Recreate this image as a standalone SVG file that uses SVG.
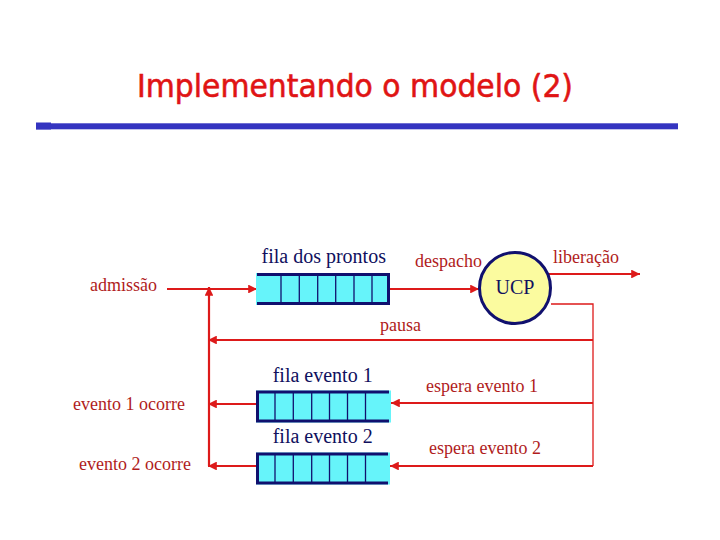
<svg xmlns="http://www.w3.org/2000/svg" width="720" height="540" viewBox="0 0 720 540">
<style>
.lbl{font-family:"Liberation Serif","Times New Roman",serif;font-size:18px;fill:#b01c1c}
.nav{font-family:"Liberation Serif","Times New Roman",serif;font-size:20px;fill:#10105e}
.ln{stroke:#dd1a1a;stroke-width:2.2;fill:none}
.thin{stroke:#dd1a1a;stroke-width:1.3;fill:none}
.qf{fill:#66f4fa;stroke:none}
.qb{fill:none;stroke:#10106e;stroke-width:3}
.qd{stroke:#10106e;stroke-width:1.3}
</style>
<defs>
<marker id="ah" viewBox="0 0 10 10" refX="10" refY="5" markerWidth="4" markerHeight="4" orient="auto" markerUnits="strokeWidth">
<path d="M0,0 L10,5 L0,10 z" fill="#dd1a1a"/>
</marker>
</defs>
<rect width="720" height="540" fill="#ffffff"/>
<g id="title">
<text x="137" y="97" font-family="'DejaVu Sans','Liberation Sans',sans-serif" font-size="32" fill="#e01414" stroke="#e01414" stroke-width="0.6" textLength="436" lengthAdjust="spacingAndGlyphs">Implementando o modelo (2)</text>
<rect x="36" y="122.5" width="15" height="7" fill="#3434c0"/>
<rect x="36" y="123.3" width="642" height="6" fill="#3434c0"/>
</g>
<g id="connectors">
<line class="ln" x1="167" y1="289" x2="257" y2="289" marker-end="url(#ah)"/>
<line class="ln" x1="209" y1="466" x2="209" y2="287" marker-end="url(#ah)"/>
<line class="ln" x1="390" y1="289" x2="479" y2="289" marker-end="url(#ah)"/>
<line class="ln" x1="548" y1="274" x2="640" y2="274" marker-end="url(#ah)"/>
<polyline class="thin" points="551,304 593,304 593,466"/>
<line class="ln" x1="593" y1="340" x2="208" y2="340" marker-end="url(#ah)"/>
<line class="ln" x1="256" y1="404" x2="208" y2="404" marker-end="url(#ah)"/>
<line class="ln" x1="593" y1="403" x2="391" y2="403" marker-end="url(#ah)"/>
<line class="ln" x1="256" y1="466" x2="208" y2="466" marker-end="url(#ah)"/>
<line class="ln" x1="593" y1="466" x2="390" y2="466" marker-end="url(#ah)"/>
</g>
<g id="ready-queue">
<rect class="qf" x="256" y="273" width="134" height="32"/>
<line class="qd" x1="281" y1="275" x2="281" y2="303"/>
<line class="qd" x1="299.3" y1="275" x2="299.3" y2="303"/>
<line class="qd" x1="317.7" y1="275" x2="317.7" y2="303"/>
<line class="qd" x1="335.7" y1="275" x2="335.7" y2="303"/>
<line class="qd" x1="354" y1="275" x2="354" y2="303"/>
<line class="qd" x1="372" y1="275" x2="372" y2="303"/>
<path class="qb" d="M257,274.5 H388.5 V303.5 H257"/>
<text class="nav" x="261.5" y="263">fila dos prontos</text>
</g>
<g id="ucp">
<circle cx="515" cy="288" r="35.5" fill="#fbfb9f" stroke="#10106e" stroke-width="3"/>
<text x="515" y="294" text-anchor="middle" font-family="'Liberation Serif','Times New Roman',serif" font-size="20" fill="#10105e">UCP</text>
</g>
<g id="event-queue-1">
<rect class="qf" x="256" y="390.5" width="135" height="32"/>
<line class="qd" x1="275" y1="392" x2="275" y2="421"/>
<line class="qd" x1="293.3" y1="392" x2="293.3" y2="421"/>
<line class="qd" x1="311.7" y1="392" x2="311.7" y2="421"/>
<line class="qd" x1="329.5" y1="392" x2="329.5" y2="421"/>
<line class="qd" x1="347.5" y1="392" x2="347.5" y2="421"/>
<line class="qd" x1="365.5" y1="392" x2="365.5" y2="421"/>
<path class="qb" d="M389,392 H257.5 V421 H389"/>
<text class="nav" x="272.7" y="382">fila evento 1</text>
</g>
<g id="event-queue-2">
<rect class="qf" x="256" y="452.5" width="134" height="32"/>
<line class="qd" x1="275" y1="454" x2="275" y2="483"/>
<line class="qd" x1="293.3" y1="454" x2="293.3" y2="483"/>
<line class="qd" x1="311.7" y1="454" x2="311.7" y2="483"/>
<line class="qd" x1="329.5" y1="454" x2="329.5" y2="483"/>
<line class="qd" x1="347.5" y1="454" x2="347.5" y2="483"/>
<line class="qd" x1="365.5" y1="454" x2="365.5" y2="483"/>
<path class="qb" d="M388,454 H257.5 V483 H388"/>
<text class="nav" x="272.7" y="443">fila evento 2</text>
</g>
<g id="labels">
<text class="lbl" x="90" y="291">admissão</text>
<text class="lbl" x="415" y="267">despacho</text>
<text class="lbl" x="553" y="263">liberação</text>
<text class="lbl" x="380" y="331">pausa</text>
<text class="lbl" x="426" y="392">espera evento 1</text>
<text class="lbl" x="429" y="454">espera evento 2</text>
<text class="lbl" x="73" y="409.5">evento 1 ocorre</text>
<text class="lbl" x="79" y="469.5">evento 2 ocorre</text>
</g>
</svg>
